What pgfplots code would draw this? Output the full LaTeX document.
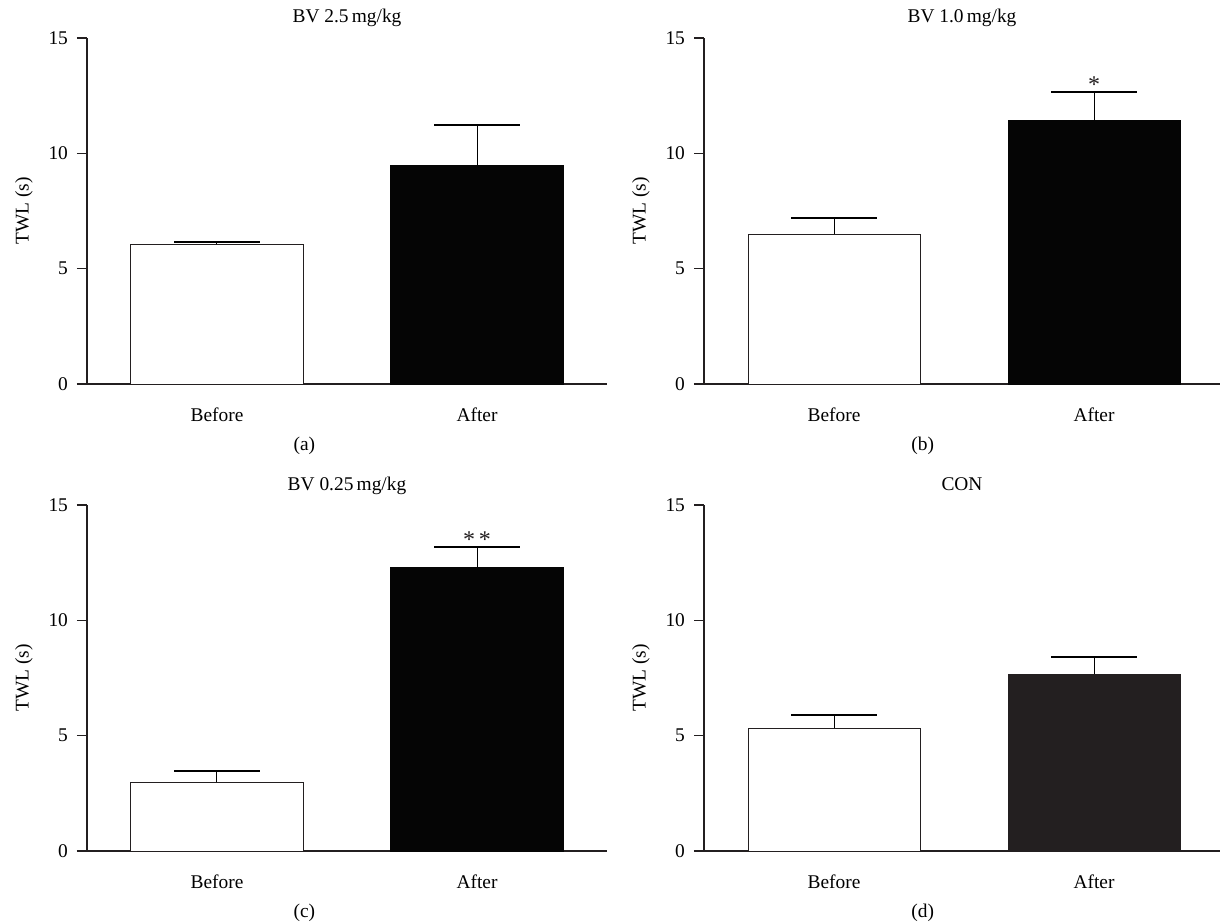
\documentclass[border=0pt]{standalone}
\usepackage{fontspec}
\setmainfont{Liberation Serif}
\usepackage{pgfplots}
\pgfplotsset{compat=1.18}
\definecolor{barA}{HTML}{050505}
\definecolor{barD}{HTML}{231F20}
\definecolor{edge}{HTML}{231F20}
\newcommand{\fs}{\fontsize{9.7}{11}\selectfont}
\newcommand{\fst}{\fontsize{12}{13}\selectfont}
\pgfplotsset{
 panel/.style={
  scale only axis, width=260pt, height=173pt,
  xmin=-0.5, xmax=1.5, ymin=0, ymax=15,
  axis x line=bottom, axis y line=left,
  axis line style={-, line width=0.7pt, color=edge},
  xtick={0,1}, xticklabels={Before,After},
  ytick={0,5,10,15},
  x tick style={draw=none},
  y tick style={line width=0.7pt, color=edge},
  tick align=outside, major tick length=5pt,
  /pgf/number format/assume math mode=true,
  tick label style={font=\fs},
  yticklabel style={xshift=-1pt},
  xticklabel style={anchor=base, yshift=-13.5pt},
  ylabel={TWL (s)},
  every axis y label/.style={at={(axis description cs:0,0.5)}, xshift=-31.5pt, rotate=90, anchor=center, font=\fs},
  every axis title/.style={at={(axis description cs:0.5,1)}, anchor=base, yshift=7.5pt, font=\fs},
  every axis x label/.style={at={(axis description cs:0.418,0)}, anchor=base, yshift=-33pt, font=\fs},
  ybar, bar width=86pt, bar shift=0pt,
  clip=false,
 },
 rightpanel/.style={width=258pt, xmax=1.4846,
  every axis x label/.style={at={(axis description cs:0.424,0)}, anchor=base, yshift=-33pt, font=\fs}},
 errstyle/.style={error bars/.cd, y dir=plus, y explicit, error mark=|,
  error bar style={line width=0.5pt, color=black},
  error mark options={line width=1pt, mark size=21.5pt, color=black}},
}
\newcommand{\ext}{\draw[line width=0.7pt, edge] (axis cs:-0.5385,0) -- (axis cs:-0.5,0);}
\begin{document}
\begin{tikzpicture}
\useasboundingbox (0,0) rectangle (610pt,461.5pt);
% (a)
\begin{axis}[panel, at={(43.5pt,269.5pt)}, anchor=south west,
  title={BV 2.5\,mg/kg}, xlabel={(a)}]
\addplot[fill=white, draw=edge, line width=0.5pt, errstyle] coordinates {(0,6.05) +- (0,0.12)};
\addplot[fill=barA, draw=barA, line width=0.5pt, errstyle] coordinates {(1,9.49) +- (0,1.74)};
\ext
\end{axis}
% (b)
\begin{axis}[panel, rightpanel, at={(352pt,269.5pt)}, anchor=south west,
  title={BV 1.0\,mg/kg}, xlabel={(b)}]
\addplot[fill=white, draw=edge, line width=0.5pt, errstyle] coordinates {(0,6.50) +- (0,0.70)};
\addplot[fill=barA, draw=barA, line width=0.5pt, errstyle] coordinates {(1,11.44) +- (0,1.22)};
\node[anchor=base, font=\fst, yshift=-0.3pt, text=edge] at (axis cs:1,12.66) {*};
\ext
\end{axis}
% (c)
\begin{axis}[panel, at={(43.5pt,36pt)}, anchor=south west,
  title={BV 0.25\,mg/kg}, xlabel={(c)}]
\addplot[fill=white, draw=edge, line width=0.5pt, errstyle] coordinates {(0,2.99) +- (0,0.48)};
\addplot[fill=barA, draw=barA, line width=0.5pt, errstyle] coordinates {(1,12.31) +- (0,0.87)};
\node[anchor=base, font=\fst, yshift=-0.3pt, text=edge] at (axis cs:1,13.18) {*\,*};
\ext
\end{axis}
% (d)
\begin{axis}[panel, rightpanel, at={(352pt,36pt)}, anchor=south west,
  title={CON}, xlabel={(d)}]
\addplot[fill=white, draw=edge, line width=0.5pt, errstyle] coordinates {(0,5.33) +- (0,0.57)};
\addplot[fill=barD, draw=barD, line width=0.5pt, errstyle] coordinates {(1,7.67) +- (0,0.74)};
\ext
\end{axis}
\end{tikzpicture}
\end{document}
